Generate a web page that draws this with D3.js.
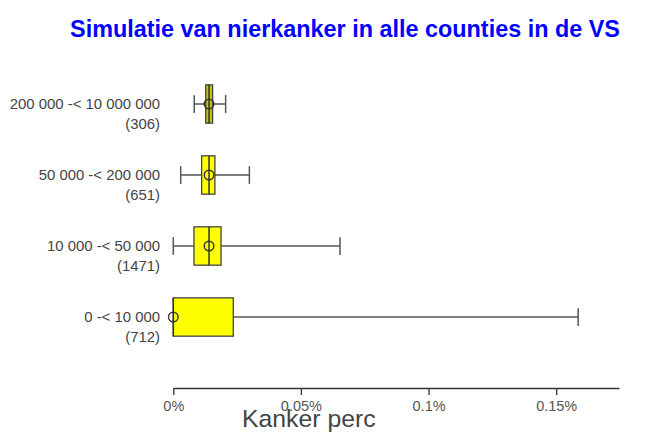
<!DOCTYPE html>
<html>
<head>
<meta charset="utf-8">
<script src="https://cdn.jsdelivr.net/npm/d3@7"></script>
<style>
  body { margin: 0; background: #fff; }
  svg { font-family: "Liberation Sans", Arial, sans-serif; }
</style>
</head>
<body>
<svg id="chart" width="645" height="436"></svg>
<script>
// groups (county population), top to bottom
const categories = ["200 000 -< 10 000 000", "50 000 -< 200 000", "10 000 -< 50 000", "0 -< 10 000"];
const counts = [306, 651, 1471, 712];
// cancer percentage, in %
const whiskerLow = [0.0082, 0.0029, 0, 0];
const q1 = [0.0127, 0.0111, 0.0081, 0];
const median = [0.0140, 0.0140, 0.0140, 0];
const q3 = [0.0154, 0.0163, 0.0187, 0.0235];
const whiskerHigh = [0.0205, 0.0298, 0.0653, 0.1586];
const marker = [0.0140, 0.0140, 0.0140, 0];
const xTicks = [0, 0.05, 0.1, 0.15];

const rows = categories.map((c, i) => ({
    cat: c, n: counts[i], lo: whiskerLow[i], q1: q1[i], med: median[i],
    q3: q3[i], hi: whiskerHigh[i], m: marker[i]
}));

const svg = d3.select('#chart');

const x = d3.scaleLinear()
    .domain([0, 0.1746])
    .range([173.3, 619]);

const y = d3.scaleBand()
    .domain(categories)
    .range([68.5, 352.5])
    .padding(0);

const mid = c => y(c) + y.bandwidth() / 2;
const boxH = y.bandwidth() * 0.54;
const capH = y.bandwidth() * 0.25;

svg.append('text')
    .attr('x', 345)
    .attr('y', 37)
    .attr('text-anchor', 'middle')
    .attr('font-size', 23.4)
    .attr('font-weight', 'bold')
    .attr('fill', '#0000ff')
    .text('Simulatie van nierkanker in alle counties in de VS');

const xAxis = d3.axisBottom(x)
    .tickValues(xTicks)
    .tickFormat(d => d + '%')
    .tickSize(7)
    .tickSizeOuter(0)
    .tickPadding(6);

const ax = svg.append('g')
    .attr('transform', 'translate(0,388)')
    .call(xAxis);
ax.select('.domain').attr('stroke', '#333').attr('stroke-width', 1.3);
ax.selectAll('.tick line').attr('stroke', '#333').attr('stroke-width', 1.3);
ax.selectAll('.tick text')
    .attr('font-size', 14.5)
    .attr('font-family', '"Liberation Sans", Arial, sans-serif')
    .attr('fill', '#555');

svg.append('text')
    .attr('x', 242)
    .attr('y', 427)
    .attr('font-size', 24.8)
    .attr('fill', '#444')
    .text('Kanker perc');

// category labels
const lab = svg.selectAll('.cat-label')
    .data(rows)
    .enter()
    .append('text')
    .attr('class', 'cat-label')
    .attr('text-anchor', 'end')
    .attr('font-size', 14.9)
    .attr('fill', '#444')
    .attr('y', d => mid(d.cat));
lab.append('tspan').attr('x', 160).attr('dy', '0.35em').text(d => d.cat);
lab.append('tspan').attr('x', 160).attr('dy', 20).text(d => '(' + d.n + ')');

const box = svg.selectAll('.box')
    .data(rows)
    .enter()
    .append('g')
    .attr('class', 'box');

// whisker line
box.append('line')
    .attr('x1', d => x(d.lo))
    .attr('x2', d => x(d.hi))
    .attr('y1', d => mid(d.cat))
    .attr('y2', d => mid(d.cat))
    .attr('stroke', '#555')
    .attr('stroke-width', 1.5);

// whisker caps (none where the whisker has no length)
[d => d.lo, d => d.hi].forEach(f => {
    box.filter(d => f(d) !== d.q1 && f(d) !== d.q3)
        .append('line')
        .attr('x1', d => x(f(d)))
        .attr('x2', d => x(f(d)))
        .attr('y1', d => mid(d.cat) - capH / 2)
        .attr('y2', d => mid(d.cat) + capH / 2)
        .attr('stroke', '#555')
        .attr('stroke-width', 1.5);
});

box.append('rect')
    .attr('x', d => x(d.q1))
    .attr('y', d => mid(d.cat) - boxH / 2)
    .attr('width', d => x(d.q3) - x(d.q1))
    .attr('height', boxH)
    .attr('fill', d => (x(d.q3) - x(d.q1)) < 10 ? '#c8c400' : '#ffff00')
    .attr('stroke', '#444')
    .attr('stroke-width', 1.3);

box.append('line')
    .attr('x1', d => x(d.med))
    .attr('x2', d => x(d.med))
    .attr('y1', d => mid(d.cat) - boxH / 2)
    .attr('y2', d => mid(d.cat) + boxH / 2)
    .attr('stroke', '#333')
    .attr('stroke-width', 1.5);

box.append('circle')
    .attr('cx', d => x(d.m))
    .attr('cy', d => mid(d.cat))
    .attr('r', 4.8)
    .attr('fill', 'none')
    .attr('stroke', '#333')
    .attr('stroke-width', 1.4);
</script>
</body>
</html>
